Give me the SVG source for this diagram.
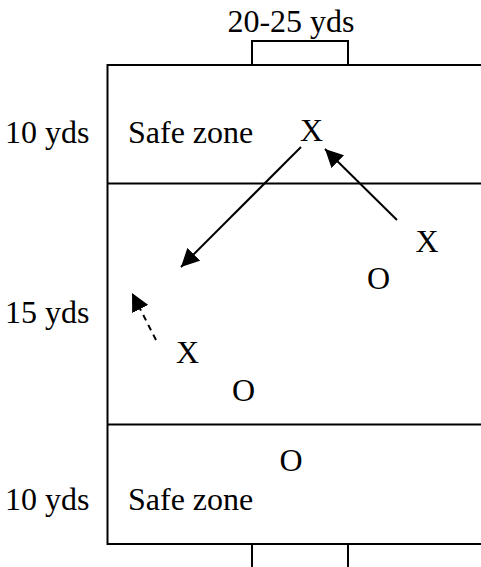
<svg xmlns="http://www.w3.org/2000/svg" width="481" height="567" viewBox="0 0 481 567">
<style>
text{font-family:"Liberation Serif","Times New Roman",serif;font-size:32px;fill:#000}
.ln{stroke:#000;stroke-width:2;fill:none}
.ar{stroke:#000;stroke-width:2;fill:none}
</style>
<defs>
<marker id="ah" viewBox="0 0 10 10" refX="10" refY="5" markerWidth="8" markerHeight="8" markerUnits="userSpaceOnUse" orient="auto">
<path d="M0,0 L10,5 L0,10 z" fill="#000"/>
</marker>
<marker id="ahb" viewBox="0 0 10 10" refX="10" refY="5" markerWidth="9" markerHeight="9" orient="auto" markerUnits="strokeWidth">
<path d="M0,0 L10,5 L0,10 z" fill="#000"/>
</marker>
</defs>
<g id="field">
<rect x="107.5" y="65" width="400" height="479" class="ln"/>
<line x1="107.5" y1="183.5" x2="481" y2="183.5" class="ln"/>
<line x1="107.5" y1="424.5" x2="481" y2="424.5" class="ln"/>
</g>
<g id="goal-top">
<rect x="252" y="41" width="96" height="24" class="ln"/>
</g>
<g id="goal-bottom">
<line x1="252" y1="544" x2="252" y2="567" class="ln"/>
<line x1="348" y1="544" x2="348" y2="567" class="ln"/>
</g>
<g id="labels">
<text x="291" y="32" text-anchor="middle">20-25 yds</text>
<text x="5" y="143">10 yds</text>
<text x="5" y="323">15 yds</text>
<text x="5" y="510">10 yds</text>
<text x="128" y="143">Safe zone</text>
<text x="128" y="510">Safe zone</text>
</g>
<g id="players">
<text x="311.5" y="141" text-anchor="middle">X</text>
<text x="427" y="252" text-anchor="middle">X</text>
<text x="378.5" y="289" text-anchor="middle">O</text>
<text x="187.5" y="363" text-anchor="middle">X</text>
<text x="243.5" y="401" text-anchor="middle">O</text>
<text x="291" y="471" text-anchor="middle">O</text>
</g>
<g id="connectors">
<line x1="301" y1="147" x2="181" y2="267" class="ar" marker-end="url(#ahb)"/>
<line x1="397" y1="220" x2="325" y2="149" class="ar" marker-end="url(#ahb)"/>
<line x1="156" y1="340" x2="132" y2="293" class="ar" stroke-dasharray="6,5" marker-end="url(#ahb)"/>
</g>
</svg>
